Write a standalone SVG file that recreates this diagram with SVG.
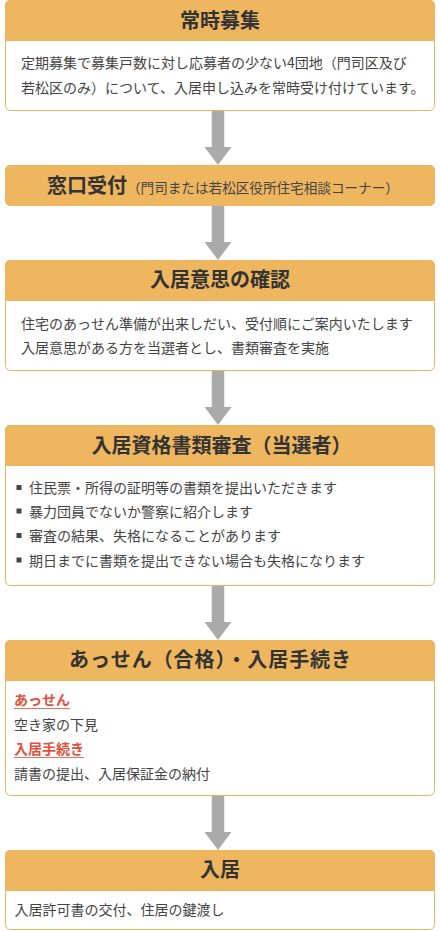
<svg xmlns="http://www.w3.org/2000/svg" width="440" height="931" viewBox="0 0 440 931">
<defs>
<style>
.box{fill:#fff;stroke:#EDB45A;stroke-width:1}
.hdr{fill:#EFB660}
.ttl{font-family:"Noto Sans CJK JP","Noto Sans",sans-serif;font-size:20px;font-weight:700;fill:#333;text-anchor:middle}
.ttls{font-family:"Noto Sans CJK JP","Noto Sans",sans-serif;font-size:20px;font-weight:700;fill:#333}
.sub{font-family:"Noto Sans CJK JP","Noto Sans",sans-serif;font-size:13.6px;font-weight:400;fill:#444}
.txt{font-family:"Noto Sans CJK JP","Noto Sans",sans-serif;font-size:14px;fill:#444}
.red{font-family:"Noto Sans CJK JP","Noto Sans",sans-serif;font-size:14px;font-weight:700;fill:#E0503C}
.ul{stroke:#E6735F;stroke-width:1}
.arr{fill:#AAAAAA}
.bul{fill:#444}
</style>
</defs>
<g id="connectors">
<path class="arr" d="M211.75 111 H224.25 V147 H231.5 L218 165 L204.5 147 H211.75 Z"/>
<path class="arr" d="M211.75 206 H224.25 V242 H231.5 L218 260 L204.5 242 H211.75 Z"/>
<path class="arr" d="M211.75 371 H224.25 V407 H231.5 L218 425 L204.5 407 H211.75 Z"/>
<path class="arr" d="M211.75 586 H224.25 V622 H231.5 L218 640 L204.5 622 H211.75 Z"/>
<path class="arr" d="M211.75 796 H224.25 V832 H231.5 L218 850 L204.5 832 H211.75 Z"/>
</g>
<g id="node1">
<rect class="box" x="5.5" y="0.5" width="429" height="110" rx="5"/>
<path class="hdr" d="M5 41 V5.5 A5 5 0 0 1 10.5 0 H429.5 A5 5 0 0 1 435 5.5 V41 Z"/>
<text class="ttl" x="220" y="27.5">常時募集</text>
<text class="txt" x="21" y="68">定期募集で募集戸数に対し応募者の少ない4団地（門司区及び</text>
<text class="txt" x="21" y="92.5">若松区のみ）について、入居申し込みを常時受け付けています。</text>
</g>
<g id="node2">
<rect class="hdr" x="5" y="165" width="430" height="41" rx="5"/>
<text class="ttls" x="47" y="192.5">窓口受付<tspan class="sub" x="127">（門司または若松区役所住宅相談コーナー）</tspan></text>
</g>
<g id="node3">
<rect class="box" x="5.5" y="260.5" width="429" height="110" rx="5"/>
<path class="hdr" d="M5 301 V265.5 A5 5 0 0 1 10.5 260 H429.5 A5 5 0 0 1 435 265.5 V301 Z"/>
<text class="ttl" x="220" y="287">入居意思の確認</text>
<text class="txt" x="21" y="328.5">住宅のあっせん準備が出来しだい、受付順にご案内いたします</text>
<text class="txt" x="21" y="353">入居意思がある方を当選者とし、書類審査を実施</text>
</g>
<g id="node4">
<rect class="box" x="5.5" y="425.5" width="429" height="160" rx="5"/>
<path class="hdr" d="M5 466 V430.5 A5 5 0 0 1 10.5 425 H429.5 A5 5 0 0 1 435 430.5 V466 Z"/>
<text class="ttl" x="221.5" y="453">入居資格書類審査（当選者）</text>
<rect class="bul" x="16.5" y="485" width="5" height="5"/>
<rect class="bul" x="16.5" y="508.5" width="5" height="5"/>
<rect class="bul" x="16.5" y="533" width="5" height="5"/>
<rect class="bul" x="16.5" y="557.5" width="5" height="5"/>
<text class="txt" x="29" y="493">住民票・所得の証明等の書類を提出いただきます</text>
<text class="txt" x="29" y="516.5">暴力団員でないか警察に紹介します</text>
<text class="txt" x="29" y="541">審査の結果、失格になることがあります</text>
<text class="txt" x="29" y="565.5">期日までに書類を提出できない場合も失格になります</text>
</g>
<g id="node5">
<rect class="box" x="5.5" y="640.5" width="429" height="155" rx="5"/>
<path class="hdr" d="M5 681 V645.5 A5 5 0 0 1 10.5 640 H429.5 A5 5 0 0 1 435 645.5 V681 Z"/>
<text class="ttl" x="210" y="667" textLength="282" lengthAdjust="spacing">あっせん（合格）・入居手続き</text>
<text class="red" x="14" y="705">あっせん</text>
<line class="ul" x1="14" y1="708.5" x2="70" y2="708.5"/>
<text class="txt" x="14" y="729.5">空き家の下見</text>
<text class="red" x="14" y="753.5">入居手続き</text>
<line class="ul" x1="14" y1="757.5" x2="84" y2="757.5"/>
<text class="txt" x="14" y="778.5">請書の提出、入居保証金の納付</text>
</g>
<g id="node6">
<rect class="box" x="5.5" y="850.5" width="429" height="79" rx="5"/>
<path class="hdr" d="M5 891 V855.5 A5 5 0 0 1 10.5 850 H429.5 A5 5 0 0 1 435 855.5 V891 Z"/>
<text class="ttl" x="220" y="877">入居</text>
<text class="txt" x="14.5" y="914.5">入居許可書の交付、住居の鍵渡し</text>
</g>
</svg>
